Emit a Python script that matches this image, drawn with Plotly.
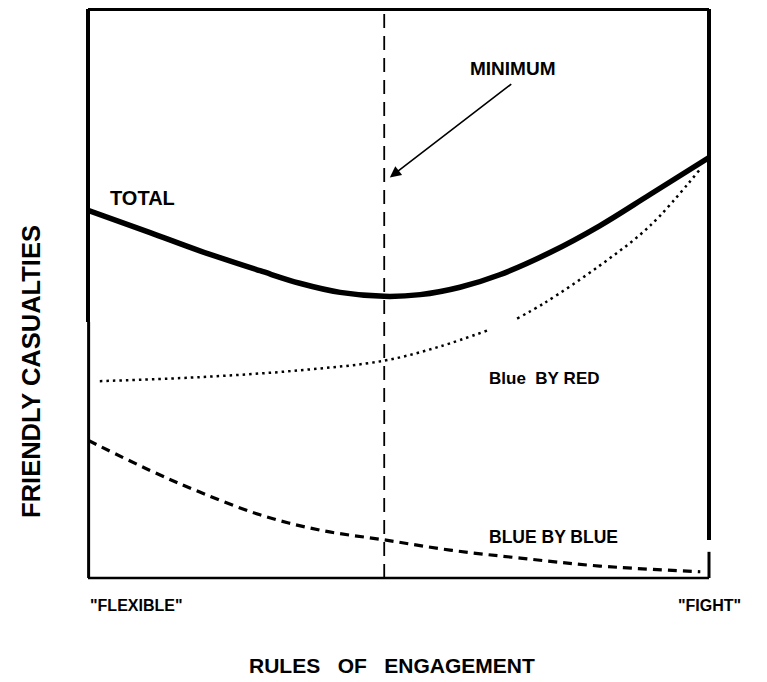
import plotly.graph_objects as go

# ---- data (arbitrary 0-100 units) ----
rules_total = [0.0, 10.0, 18.0, 27.7, 34.1, 40.6, 47.7, 53.5, 59.9, 66.3, 74.4, 82.4, 90.5, 100.0]
total = [64.6, 60.7, 57.5, 54.0, 51.8, 50.2, 49.5, 49.8, 51.1, 53.3, 57.2, 61.9, 67.4, 73.9]

rules_red = [1.9, 18.0, 34.1, 47.7, 56.7, 64.3, None, 69.1, 73.6, 82.4, 90.5, 98.6]
blue_by_red = [34.6, 35.3, 36.5, 38.2, 40.7, 43.5, None, 45.6, 48.4, 54.9, 61.9, 71.9]

rules_blue = [0.0, 10.0, 18.0, 27.7, 37.4, 47.7, 58.3, 69.6, 82.4, 98.6]
blue_by_blue = [24.2, 18.9, 15.1, 11.1, 8.4, 6.7, 4.9, 3.5, 2.1, 1.1]

minimum_x = 47.7

FONT = "Liberation Sans, Arial, Helvetica, sans-serif"

fig = go.Figure()
fig.add_trace(go.Scatter(x=rules_total, y=total, mode="lines",
                         line=dict(color="black", width=5.5, shape="spline"),
                         cliponaxis=False, showlegend=False))
fig.add_trace(go.Scatter(x=rules_red, y=blue_by_red, mode="lines",
                         line=dict(color="black", width=2.5, dash="2.5px,4px", shape="spline"),
                         connectgaps=False, cliponaxis=False, showlegend=False))
fig.add_trace(go.Scatter(x=rules_blue, y=blue_by_blue, mode="lines",
                         line=dict(color="black", width=3.2, dash="9px,6px", shape="spline"),
                         cliponaxis=False, showlegend=False))
fig.add_trace(go.Scatter(x=[minimum_x, minimum_x], y=[0, 100], mode="lines",
                         line=dict(color="black", width=1.8, dash="14px,8px"),
                         cliponaxis=False, showlegend=False))

# frame
def frame(x0, x1, y0, y1, w):
    fig.add_shape(type="line", xref="paper", yref="paper", x0=x0, x1=x1, y0=y0, y1=y1,
                  line=dict(color="black", width=w))

frame(0, 1, 1, 1, 4)
frame(0, 0, 1, 0.45, 4)
frame(0.001, 0.001, 0.45, 0, 3)
frame(1, 1, 1, 0.067, 4)
frame(1, 1, 0.046, 0, 3)
frame(0, 1, 0, 0, 2.5)

def label(x, y, text, size, xanchor="left", **kw):
    fig.add_annotation(x=x, y=y, text=text, showarrow=False, xanchor=xanchor,
                       yanchor="middle", font=dict(family=FONT, size=size, color="black"), **kw)

label(3.2, 66.7, "<b>TOTAL</b>", 20)
label(64.3, 35.1, "<b>Blue\u00a0\u00a0BY\u00a0RED</b>", 17)
label(64.3, 7.2, "<b>BLUE BY BLUE</b>", 17.5)
label(68.3, 89.5, "<b>MINIMUM</b>", 19, xanchor="center")
fig.add_annotation(x=48.6, y=70.4, ax=68.4, ay=87.0, axref="x", ayref="y",
                   text="", showarrow=True, arrowhead=2, arrowsize=1.4,
                   arrowwidth=1.6, arrowcolor="black")

# axis-end labels and axis titles
label(0, -0.049, '<b>"FLEXIBLE"</b>', 16, xref="paper", yref="paper")
label(1.0016, -0.049, '<b>"FIGHT"</b>', 16, xanchor="center", xref="paper", yref="paper")
label(0.4895, -0.153, "<b>RULES\u00a0\u00a0\u00a0OF\u00a0\u00a0\u00a0ENGAGEMENT</b>", 21,
      xanchor="center", xref="paper", yref="paper")
label(-0.0918, 0.364, "<b>FRIENDLY CASUALTIES</b>", 25.5, xanchor="center",
      xref="paper", yref="paper", textangle=-90)

fig.update_xaxes(range=[0, 100], visible=False, fixedrange=True)
fig.update_yaxes(range=[0, 100], visible=False, fixedrange=True)
fig.update_layout(width=759, height=674,
                  margin=dict(l=80, r=58, t=1, b=104),
                  paper_bgcolor="white", plot_bgcolor="white",
                  showlegend=False)

fig.write_html("out.html")
